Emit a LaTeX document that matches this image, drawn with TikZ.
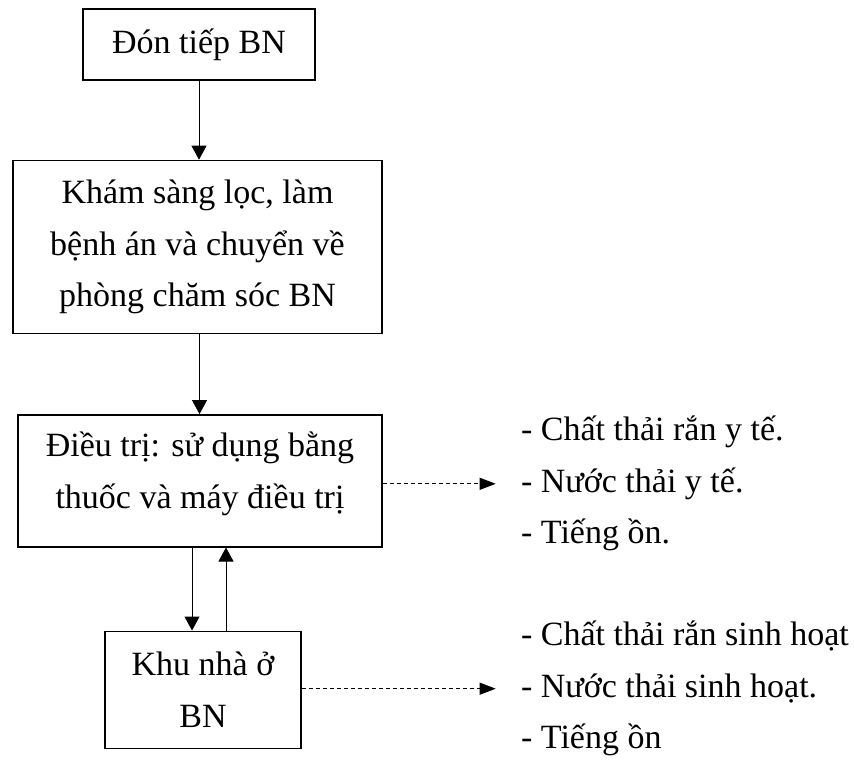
\documentclass[tikz,border=0pt]{standalone}
\usepackage{fontspec}
\setmainfont{Liberation Serif}
\usetikzlibrary{arrows.meta,positioning}

\begin{document}
\begin{tikzpicture}[
  x=0.5pt, y=0.5pt,
  font=\fontsize{17}{25.75}\selectfont,
  >={Triangle[length=7pt,width=7.5pt]},
  box/.style={draw, line width=0.7pt, align=center, inner sep=3pt},
  arr/.style={->, line width=0.5pt},
  dasharr/.style={-{Triangle[length=8pt,width=6pt]}, line width=0.5pt, dash pattern=on 2pt off 1.5pt, shorten >=12.5pt},
  note/.style={align=left, inner sep=0pt}
]
\useasboundingbox (0,0) rectangle (854,762);

\node[box, minimum width=116pt, minimum height=35.5pt] (don) at (199,717.5) {Đón tiếp BN};
\node[box, minimum width=184.5pt, minimum height=86.5pt, below=39.5pt of don, xshift=-0.75pt] (kham) {Khám sàng lọc, làm\\bệnh án và chuyển về\\phòng chăm sóc BN};
\node[box, minimum width=182pt, minimum height=66pt, below=40pt of kham, xshift=1.25pt] (dieutri) {Điều trị: sử dụng bằng\\thuốc và máy điều trị\\[-15pt]~};
\node[box, minimum width=98pt, minimum height=58.5pt, below=41.5pt of dieutri, xshift=1.5pt] (khu) {Khu nhà ở\\BN};

\node[note, right=69pt of dieutri, yshift=-1.5pt] (thai1) {- Chất thải rắn y tế.\\- Nước thải y tế.\\- Tiếng ồn.};
\node[note, right=109.5pt of khu, yshift=0.5pt] (thai2) {- Chất thải rắn sinh hoạt\\- Nước thải sinh hoạt.\\- Tiếng ồn};

\draw[arr] (don.south) -- (don.south |- kham.north);
\draw[arr] ([xshift=1pt]kham.south) -- ([xshift=1pt]kham.south |- dieutri.north);
\draw[arr] ([xshift=-4pt]dieutri.south) -- ([xshift=-4pt]dieutri.south |- khu.north);
\draw[arr] ([xshift=13pt]dieutri.south |- khu.north) -- ([xshift=13pt]dieutri.south);

\draw[dasharr] (dieutri.east |- thai1.west) -- (thai1.west);
\draw[dasharr] (khu.east |- thai2.west) -- (thai2.west);

\end{tikzpicture}
\end{document}
